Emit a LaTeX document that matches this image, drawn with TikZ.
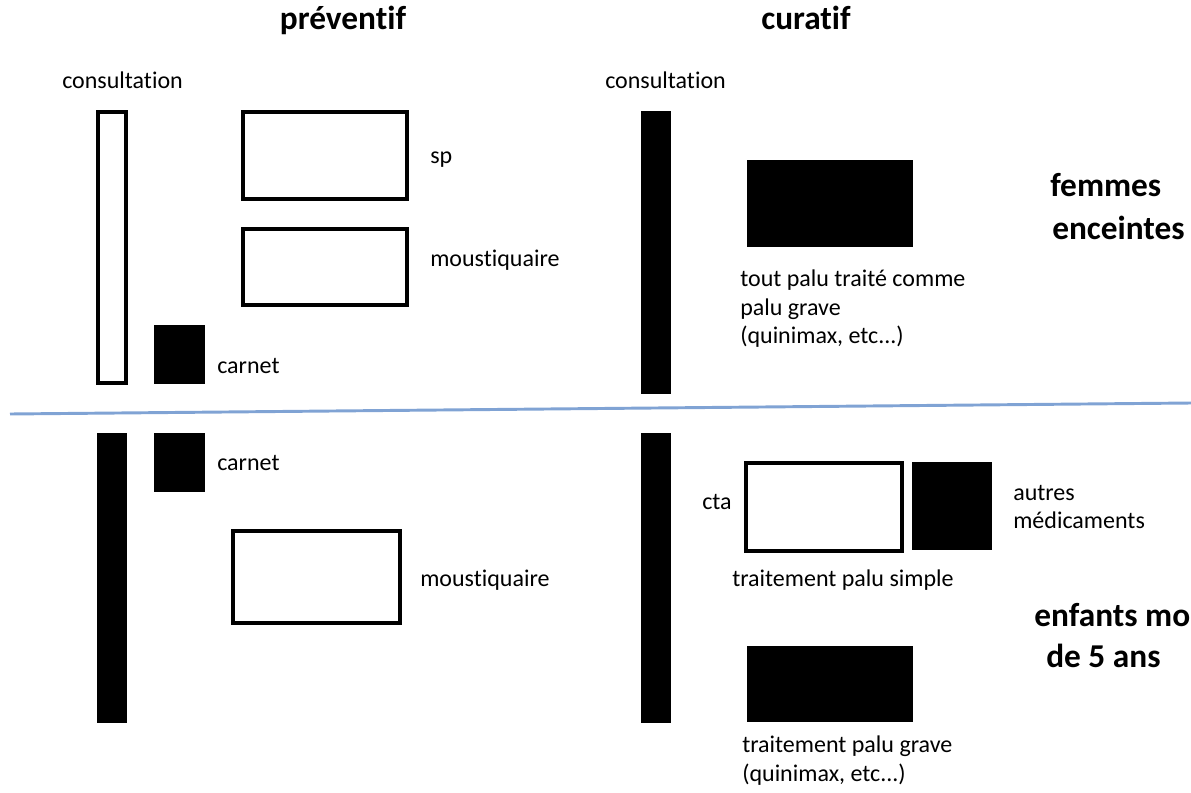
\documentclass[tikz,border=0pt]{standalone}
\usepackage{fontspec}
\setmainfont{Carlito}[Ligatures=NoCommon]
\begin{document}
\begin{tikzpicture}[x=0.75pt,y=-0.75pt,
  lbl/.style={font=\fontsize{18}{21}\selectfont, inner sep=0pt, anchor=base west},
  ttl/.style={font=\fontsize{25}{30}\selectfont\bfseries, inner sep=0pt, anchor=base west},
  hdr/.style={font=\fontsize{25}{30}\selectfont\bfseries, inner sep=0pt, anchor=base},
  wbox/.style={draw=black, line width=2.4pt, fill=white},
  bbox/.style={fill=black}]
\useasboundingbox (0,0) rectangle (1191,792);
\begin{scope}
\clip (0,0) rectangle (1191,792);
% headers
\node[hdr] (prev) at (343,30) {préventif};
\node[hdr] (cur) at (806,30) {curatif};
\node[lbl] (cons1) at (62,89) {consultation};
\node[lbl] (cons2) at (605,89) {consultation};
% top left
\draw[wbox] (98,112) rectangle (126,383);
\fill[bbox] (154,325) rectangle (205,384);
\draw[wbox] (243,112) rectangle (407,199);
\draw[wbox] (243,229) rectangle (407,305);
\node[lbl] (sp) at (430,163) {sp};
\node[lbl] (mous1) at (430,266) {moustiquaire};
\node[lbl] (carn1) at (217,373) {carnet};
% top right
\fill[bbox] (641,111) rectangle (671,394);
\fill[bbox] (747,160) rectangle (913,247);
\node[lbl] (tp1) at (740,286) {tout palu traité comme};
\node[lbl] (tp2) at (740,315) {palu grave};
\node[lbl] (tp3) at (740,343) {(quinimax, etc...)};
\node[ttl] (fem1) at (1050,196) {femmes};
\node[ttl] (fem2) at (1052,239) {enceintes};
% separator
\draw[color={rgb,255:red,128;green,163;blue,212}, line width=2.2pt] (10,414) -- (1191,403);
% bottom left
\fill[bbox] (97,433) rectangle (127,723);
\fill[bbox] (154,433) rectangle (205,492);
\node[lbl] (carn2) at (217,470) {carnet};
\draw[wbox] (233,531) rectangle (400,623);
\node[lbl] (mous2) at (420,586) {moustiquaire};
% bottom right
\fill[bbox] (641,433) rectangle (671,723);
\draw[wbox] (746,463) rectangle (902,551);
\fill[bbox] (912,462) rectangle (992,550);
\node[lbl] (cta) at (702,509) {cta};
\node[lbl] (aut1) at (1013,500) {autres};
\node[lbl] (aut2) at (1013,528) {médicaments};
\node[lbl] (tps) at (732,586) {traitement palu simple};
\node[ttl] (enf1) at (1034,626) {enfants moins};
\node[ttl] (enf2) at (1046,667) {de 5 ans};
\fill[bbox] (747,646) rectangle (913,722);
\node[lbl] (tpg1) at (742,752) {traitement palu grave};
\node[lbl] (tpg2) at (742,781) {(quinimax, etc...)};
\end{scope}
\end{tikzpicture}
\end{document}
